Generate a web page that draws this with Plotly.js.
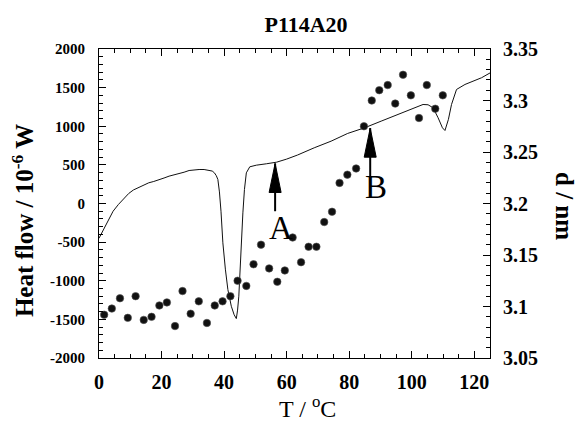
<!DOCTYPE html>
<html>
<head>
<meta charset="utf-8">
<script src="https://cdn.plot.ly/plotly-3.0.1.min.js"></script>
<style>html,body{margin:0;padding:0;background:#fff;}#chart{width:579px;height:423px;}</style>
</head>
<body>
<div id="chart"></div>
<script>
// Heat flow curve (left axis)
const heatT = [0, 1, 2, 3, 4.5, 6.2, 8, 9.5, 11, 12.7, 14.5, 15.9, 17.5, 19.1, 20.8, 22.4, 24, 25.6, 27.2, 28.8, 30.4, 32, 33.6, 35.3, 36.2, 36.9, 37.5, 38.0, 38.5, 39.0, 39.6, 40.4, 41.2, 42.3, 43.2, 43.9, 44.3, 44.7, 45.3, 46.0, 46.5, 47.1, 48.2, 50.3, 53.5, 56.8, 60, 63.5, 68.8, 74.2, 79.5, 84.9, 90.2, 95.6, 100.9, 103.6, 105.2, 106.8, 108.4, 109.8, 110.6, 111.7, 112.7, 114.3, 117.0, 120, 122.3, 125];
const heatFlow = [-450, -370, -290, -207, -100, -13, 70, 130, 175, 211, 245, 268, 285, 302, 330, 354, 370, 384, 405, 427, 437, 440, 440, 431, 420, 397, 360, 311, 150, -100, -509, -850, -1114, -1330, -1440, -1490, -1380, -1200, -639, -121, 181, 397, 475, 496, 514, 535, 575, 628, 721, 807, 907, 980, 1066, 1153, 1239, 1282, 1278, 1239, 1110, 980, 945, 1088, 1282, 1476, 1541, 1590, 1628, 1690];

// d-spacing points (right axis)
const dT = [1.65, 4.1, 6.7, 9.2, 11.7, 14.3, 16.8, 19.3, 21.7, 24.3, 26.7, 29.3, 31.9, 34.5, 37.0, 39.5, 42.0, 44.3, 47.1, 49.4, 51.8, 54.4, 57.0, 59.4, 61.9, 64.6, 67.0, 69.5, 72.0, 74.5, 76.9, 79.4, 82.2, 84.7, 87.2, 89.6, 92.3, 94.7, 97.2, 99.7, 102.3, 104.8, 107.5, 109.9];
const dValues = [3.092, 3.098, 3.108, 3.089, 3.110, 3.087, 3.090, 3.101, 3.104, 3.081, 3.115, 3.093, 3.105, 3.084, 3.101, 3.105, 3.110, 3.125, 3.120, 3.141, 3.160, 3.137, 3.124, 3.135, 3.167, 3.143, 3.158, 3.158, 3.182, 3.192, 3.220, 3.228, 3.234, 3.275, 3.300, 3.310, 3.315, 3.297, 3.325, 3.305, 3.283, 3.315, 3.292, 3.305];

// Tick labels
const xTickVals = [0, 20, 40, 60, 80, 100, 120];
const xTickText = ['0', '20', '40', '60', '80', '100', '120'];
const leftTickVals = [-2000, -1500, -1000, -500, 0, 500, 1000, 1500, 2000];
const leftTickText = ['-2000', '-1500', '-1000', '-500', '0', '500', '1000', '1500', '2000'];
const rightTickVals = [3.05, 3.1, 3.15, 3.2, 3.25, 3.3, 3.35];
const rightTickText = ['3.05', '3.1', '3.15', '3.2', '3.25', '3.3', '3.35'];

// Arrow markers A and B
const arrowLabels = ['A', 'B'];
const arrowT = [56.3, 86.7];
const arrowTail = [-100, 354];
const arrowTip = [518, 975];
const labelT = [58.1, 88.6];
const labelHF = [-311, 214];

const serif = 'Liberation Serif, Times New Roman, serif';
const bold = s => '<b>' + s + '</b>';

const traces = [
  {x: heatT, y: heatFlow, type: 'scatter', mode: 'lines', line: {color: '#111', width: 1}, yaxis: 'y', hoverinfo: 'skip'},
  {x: dT, y: dValues, type: 'scatter', mode: 'markers', marker: {color: '#111', size: 7.5, line: {color: '#555', width: 0.6}}, yaxis: 'y2', hoverinfo: 'skip'}
];

const shapes = [];
const annotations = [];
for (let i = 0; i < arrowLabels.length; i++) {
  shapes.push({type: 'line', xref: 'x', yref: 'y', x0: arrowT[i], x1: arrowT[i], y0: arrowTail[i], y1: arrowTip[i], line: {color: '#000', width: 2}});
  shapes.push({type: 'path', xref: 'x', yref: 'y', xsizemode: 'pixel', ysizemode: 'pixel', xanchor: arrowT[i], yanchor: arrowTip[i],
    path: 'M0,0 L-6,-29 L6,-29 Z', fillcolor: '#000', line: {color: '#000', width: 1}});
  annotations.push({xref: 'x', yref: 'y', x: labelT[i], y: labelHF[i], text: arrowLabels[i], showarrow: false,
    font: {family: serif, size: 33, color: '#000'}, xanchor: 'center', yanchor: 'middle'});
}
annotations.push({xref: 'paper', yref: 'paper', x: 0, y: 0.443, xshift: -76, textangle: -90, showarrow: false,
  text: bold('Heat flow / 10<sup>-6</sup> W'), font: {family: serif, size: 25, color: '#000'}, xanchor: 'center', yanchor: 'middle'});
annotations.push({xref: 'paper', yref: 'paper', x: 1, y: 0.492, xshift: 74, textangle: 90, showarrow: false,
  text: bold('d / nm'), font: {family: serif, size: 25, color: '#000'}, xanchor: 'center', yanchor: 'middle'});
annotations.push({xref: 'paper', yref: 'paper', x: 0.533, y: 0, yshift: -49, showarrow: false,
  text: 'T / <sup>o</sup>C', font: {family: serif, size: 24, color: '#000'}, xanchor: 'center', yanchor: 'middle'});

const layout = {
  width: 579, height: 423,
  margin: {l: 99, r: 89, t: 49, b: 65},
  paper_bgcolor: '#fff', plot_bgcolor: '#fff',
  showlegend: false,
  title: {text: bold('P114A20'), font: {family: serif, size: 22, color: '#000'}, x: 0.5285, xref: 'container', xanchor: 'center', y: 0.943, yref: 'container', yanchor: 'middle'},
  xaxis: {range: [0, 125], tickvals: xTickVals, ticktext: xTickText.map(bold), showgrid: false, zeroline: false, showline: true, linecolor: '#000', linewidth: 1,
    mirror: 'ticks', ticks: 'inside', ticklen: 7, tickcolor: '#000', tickwidth: 1,
    minor: {tickvals: [5,10,15,25,30,35,45,50,55,65,70,75,85,90,95,105,110,115,125], ticks: 'inside', ticklen: 4, tickcolor: '#000', tickwidth: 1},
    tickfont: {family: serif, size: 20, color: '#000'}, ticklabelstandoff: 6},
  yaxis: {range: [-2000, 2000], tickvals: leftTickVals, ticktext: leftTickText.map(bold), showgrid: false, zeroline: false, showline: true, linecolor: '#000', linewidth: 1,
    ticks: 'inside', ticklen: 7, tickcolor: '#000', tickwidth: 1,
    minor: {dtick: 100, ticks: 'inside', ticklen: 4, tickcolor: '#000', tickwidth: 1},
    tickfont: {family: serif, size: 15, color: '#000'}, ticklabelstandoff: 10},
  yaxis2: {range: [3.05, 3.35], tickvals: rightTickVals, ticktext: rightTickText.map(bold), overlaying: 'y', side: 'right', showgrid: false, zeroline: false, showline: true, linecolor: '#000', linewidth: 1,
    ticks: 'inside', ticklen: 7, tickcolor: '#000', tickwidth: 1,
    minor: {dtick: 0.01, tick0: 3.05, ticks: 'inside', ticklen: 4, tickcolor: '#000', tickwidth: 1},
    tickfont: {family: serif, size: 20, color: '#000'}, ticklabelstandoff: 8},
  shapes: shapes,
  annotations: annotations
};

Plotly.newPlot('chart', traces, layout, {staticPlot: true, displayModeBar: false});
</script>
</body>
</html>
